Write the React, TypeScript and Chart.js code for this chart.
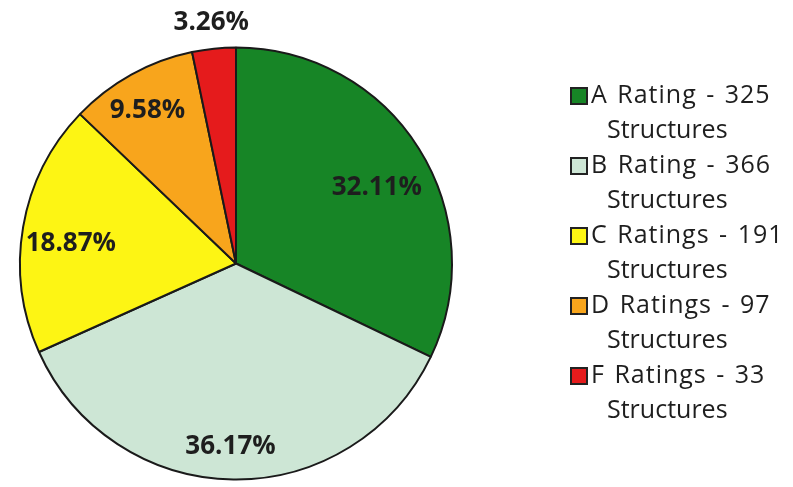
import React, { useEffect, useRef } from "react";
import { Chart, registerables } from "chart.js";

Chart.register(...registerables);

const categories = [
  "A Rating - 325 Structures",
  "B Rating - 366 Structures",
  "C Ratings - 191 Structures",
  "D Ratings - 97 Structures",
  "F Ratings - 33 Structures",
];
const legendLine1 = ["A Rating - 325", "B Rating - 366", "C Ratings - 191", "D Ratings - 97", "F Ratings - 33"];
const legendLine2 = ["Structures", "Structures", "Structures", "Structures", "Structures"];
const values = [325, 366, 191, 97, 33];
const colors = ["#178526", "#cde6d5", "#fdf514", "#f8a51c", "#e51b1c"];

// label placement tweaks relative to each slice's mid-angle (radius factor, angle shift in degrees)
const labelRadius = [0.74, 0.85, 0.77, 0.82, 1.12];
const labelShift = [4, 1, -3, -1, 0];

const labelPlugin = {
  id: "pctLabels",
  afterDatasetsDraw(chart: any) {
    const ctx = chart.ctx;
    const meta = chart.getDatasetMeta(0);
    const data = chart.data.datasets[0].data as number[];
    const total = data.reduce((a, b) => a + b, 0);
    ctx.save();
    ctx.font = "bold 26px 'Open Sans'";
    ctx.fillStyle = "#1e1e1e";
    ctx.textAlign = "center";
    ctx.textBaseline = "middle";
    meta.data.forEach((arc: any, i: number) => {
      const p = data[i] / total;
      const mid = (arc.startAngle + arc.endAngle) / 2 + (labelShift[i] * Math.PI) / 180;
      const r = arc.outerRadius * labelRadius[i];
      const x = arc.x + Math.cos(mid) * r;
      const y = arc.y + Math.sin(mid) * r;
      ctx.fillText((p * 100).toFixed(2) + "%", x, y);
    });
    ctx.restore();
  },
};

const legendPlugin = {
  id: "customLegend",
  afterDraw(chart: any) {
    const ctx = chart.ctx;
    const x0 = 571;
    const y0 = 96;
    const step = 70;
    ctx.save();
    ctx.font = "500 25px 'Open Sans'";
    ctx.textBaseline = "middle";
    ctx.textAlign = "left";
    legendLine1.forEach((t, i) => {
      const y = y0 + i * step;
      ctx.fillStyle = colors[i];
      ctx.fillRect(x0, y - 8, 16, 16);
      ctx.strokeStyle = "#222";
      ctx.lineWidth = 2;
      ctx.strokeRect(x0, y - 8, 16, 16);
      ctx.fillStyle = "#1e1e1e";
      (ctx as any).wordSpacing = "2px";
      (ctx as any).letterSpacing = "1px";
      ctx.fillText(t, x0 + 20, y);
      (ctx as any).wordSpacing = "0px";
      (ctx as any).letterSpacing = "0px";
      ctx.fillText(legendLine2[i], x0 + 36, y + 35);
    });
    ctx.restore();
  },
};

export default function App() {
  const ref = useRef<HTMLCanvasElement>(null);
  useEffect(() => {
    if (!ref.current) return;
    const chart = new Chart(ref.current, {
      type: "pie",
      data: {
        labels: categories,
        datasets: [
          {
            data: values,
            backgroundColor: colors,
            borderColor: "#1a1a1a",
            borderWidth: 2,
          },
        ],
      },
      options: {
        animation: false,
        responsive: true,
        maintainAspectRatio: false,
        layout: { padding: { left: 19, top: 42, right: 340, bottom: 2 } },
        plugins: {
          legend: { display: false },
          tooltip: { enabled: false },
        },
      },
      plugins: [labelPlugin, legendPlugin],
    });
    return () => chart.destroy();
  }, []);
  return (
    <div style={{ position: "fixed", left: 0, top: 0, width: 793, height: 487, background: "#fff" }}>
      <canvas ref={ref} />
    </div>
  );
}
